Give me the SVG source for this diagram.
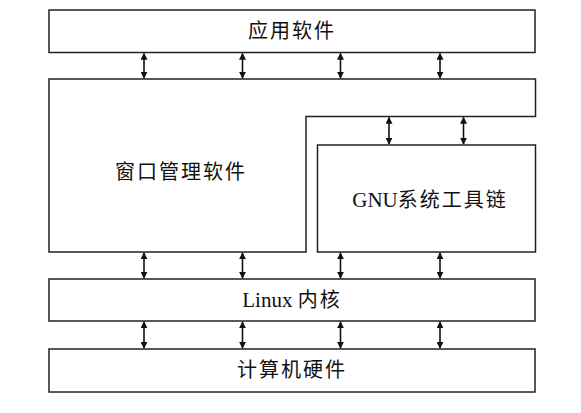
<svg xmlns="http://www.w3.org/2000/svg" width="581" height="413" viewBox="0 0 581 413">
<style>
.box{fill:#fff;stroke:#222;stroke-width:1.5}
.t{font-family:"Liberation Serif","Noto Sans CJK SC",serif;font-size:20px;letter-spacing:2px;fill:#111;text-anchor:middle;dominant-baseline:central}
.l{letter-spacing:0;font-size:21px}
.c{stroke:#111;stroke-width:1.6;fill:none;marker-start:url(#a);marker-end:url(#a)}
</style>
<defs>
<marker id="a" viewBox="0 0 10 10" refX="9" refY="5" markerWidth="7" markerHeight="7" orient="auto-start-reverse" markerUnits="userSpaceOnUse">
<path d="M0,0 L10,5 L0,10 z" fill="#111"/>
</marker>
</defs>
<rect width="581" height="413" fill="#fff"/>
<g id="app"><rect class="box" x="49" y="10" width="486" height="42.5"/><text class="t" x="292" y="31">应用软件</text></g>
<g id="wm"><path class="box" d="M49,79 H535.5 V116.5 H306 V252 H49 Z"/><text class="t" x="181" y="172">窗口管理软件</text></g>
<g id="gnu"><rect class="box" x="317.5" y="145" width="218" height="107"/><text class="t" x="430" y="200"><tspan class="l">GNU</tspan>系统工具链</text></g>
<g id="kernel"><rect class="box" x="49" y="279" width="486" height="42"/><text class="t" x="292" y="300"><tspan class="l">Linux </tspan>内核</text></g>
<g id="hw"><rect class="box" x="49" y="349" width="486" height="43"/><text class="t" x="292" y="370">计算机硬件</text></g>
<g id="connectors">
<line class="c" x1="144" y1="53.5" x2="144" y2="78"/>
<line class="c" x1="242.5" y1="53.5" x2="242.5" y2="78"/>
<line class="c" x1="340.5" y1="53.5" x2="340.5" y2="78"/>
<line class="c" x1="440" y1="53.5" x2="440" y2="78"/>
<line class="c" x1="389" y1="117.5" x2="389" y2="144"/>
<line class="c" x1="463.5" y1="117.5" x2="463.5" y2="144"/>
<line class="c" x1="144" y1="253" x2="144" y2="278"/>
<line class="c" x1="242.5" y1="253" x2="242.5" y2="278"/>
<line class="c" x1="340.5" y1="253" x2="340.5" y2="278"/>
<line class="c" x1="440" y1="253" x2="440" y2="278"/>
<line class="c" x1="144" y1="322" x2="144" y2="348"/>
<line class="c" x1="242.5" y1="322" x2="242.5" y2="348"/>
<line class="c" x1="340.5" y1="322" x2="340.5" y2="348"/>
<line class="c" x1="440" y1="322" x2="440" y2="348"/>
</g>
</svg>
